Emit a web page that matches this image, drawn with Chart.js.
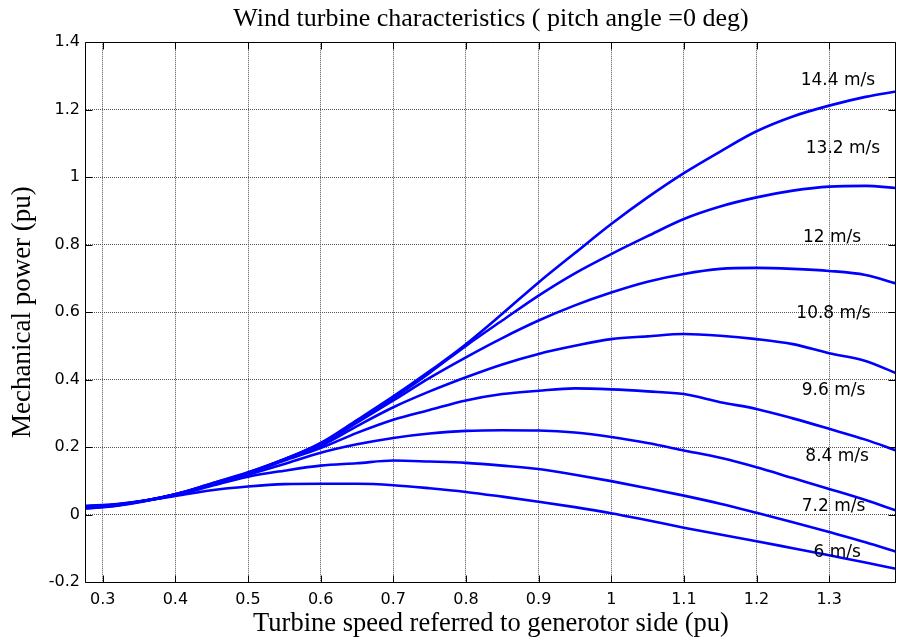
<!DOCTYPE html>
<html>
<head>
<meta charset="utf-8">
<script src="https://cdn.jsdelivr.net/npm/chart.js@4.4.1/dist/chart.umd.min.js"></script>
<style>
  html, body { margin: 0; padding: 0; background: #fff; }
  #contenedor { width: 897px; height: 641px; }
</style>
</head>
<body>
<div id="contenedor"><canvas id="graficaTurbina"></canvas></div>
<script>
// velocidad de la turbina (pu) y potencia mecanica (pu) para cada viento
const speed = [0.277, 0.32, 0.4, 0.45, 0.5, 0.55, 0.6, 0.65, 0.7, 0.75, 0.8, 0.85, 0.9, 0.95, 1.0, 1.05, 1.1, 1.15, 1.2, 1.25, 1.3, 1.35, 1.392];
const p6   = [0.026, 0.031, 0.055, 0.072, 0.083, 0.09, 0.091, 0.091, 0.087, 0.078, 0.067, 0.053, 0.038, 0.022, 0.004, -0.017, -0.039, -0.059, -0.079, -0.1, -0.121, -0.142, -0.161];
const p7_2 = [0.024, 0.03, 0.057, 0.085, 0.112, 0.13, 0.145, 0.152, 0.16, 0.157, 0.153, 0.145, 0.135, 0.118, 0.099, 0.078, 0.056, 0.032, 0.005, -0.023, -0.052, -0.082, -0.11];
const p8_4 = [0.022, 0.029, 0.058, 0.088, 0.118, 0.15, 0.183, 0.208, 0.227, 0.24, 0.248, 0.25, 0.249, 0.243, 0.23, 0.212, 0.19, 0.168, 0.14, 0.108, 0.076, 0.043, 0.012];
const p9_6 = [0.021, 0.029, 0.059, 0.09, 0.122, 0.16, 0.197, 0.242, 0.281, 0.31, 0.338, 0.357, 0.367, 0.374, 0.371, 0.365, 0.357, 0.333, 0.313, 0.285, 0.254, 0.222, 0.19];
const p10_8 = [0.02, 0.028, 0.06, 0.092, 0.124, 0.163, 0.203, 0.262, 0.318, 0.365, 0.407, 0.445, 0.476, 0.5, 0.52, 0.528, 0.535, 0.53, 0.52, 0.505, 0.478, 0.455, 0.419];
const p12  = [0.02, 0.028, 0.06, 0.092, 0.125, 0.164, 0.207, 0.272, 0.338, 0.405, 0.466, 0.523, 0.575, 0.62, 0.658, 0.69, 0.713, 0.728, 0.731, 0.728, 0.722, 0.71, 0.685];
const p13_2 = [0.019, 0.027, 0.06, 0.09, 0.123, 0.164, 0.21, 0.278, 0.345, 0.42, 0.5, 0.575, 0.649, 0.715, 0.772, 0.825, 0.876, 0.913, 0.94, 0.96, 0.972, 0.974, 0.968];
const p14_4 = [0.018, 0.026, 0.059, 0.088, 0.12, 0.163, 0.212, 0.28, 0.35, 0.425, 0.505, 0.595, 0.688, 0.775, 0.861, 0.94, 1.012, 1.076, 1.136, 1.18, 1.212, 1.238, 1.254];

const seriesNames = ['6 m/s', '7.2 m/s', '8.4 m/s', '9.6 m/s', '10.8 m/s', '12 m/s', '13.2 m/s', '14.4 m/s'];
const seriesPower = [p6, p7_2, p8_4, p9_6, p10_8, p12, p13_2, p14_4];
// donde va cada etiqueta (en unidades de los ejes)
const labelSpeed = [1.311, 1.306, 1.311, 1.306, 1.306, 1.304, 1.319, 1.312];
const labelPower = [-0.112, 0.024, 0.172, 0.367, 0.595, 0.822, 1.084, 1.286];

const xTicks = [0.3, 0.4, 0.5, 0.6, 0.7, 0.8, 0.9, 1.0, 1.1, 1.2, 1.3];
const yTicks = [-0.2, 0, 0.2, 0.4, 0.6, 0.8, 1.0, 1.2, 1.4];

const serif = 'Liberation Serif';
const sans = 'DejaVu Sans';
const fmt = v => String(Math.round(v * 10) / 10);

// marco negro, marcas hacia dentro y etiquetas de velocidad
const marco = {
  id: 'marco',
  afterDatasetsDraw(chart) {
    const { ctx, chartArea: a, scales: { x, y } } = chart;
    ctx.save();
    ctx.strokeStyle = '#000';
    ctx.lineWidth = 1;
    const l = Math.round(a.left) - 0.5, r = Math.round(a.right) - 0.5;
    const t = Math.round(a.top) + 0.5, b = Math.round(a.bottom) + 0.5;
    ctx.beginPath();
    ctx.moveTo(l, t); ctx.lineTo(r, t); ctx.lineTo(r, b); ctx.lineTo(l, b); ctx.closePath();
    xTicks.forEach(v => {
      const px = Math.round(x.getPixelForValue(v)) + 0.5;
      ctx.moveTo(px, b); ctx.lineTo(px, b - 7);
      ctx.moveTo(px, t); ctx.lineTo(px, t + 7);
    });
    yTicks.forEach(v => {
      const py = Math.round(y.getPixelForValue(v)) + 0.5;
      ctx.moveTo(l, py); ctx.lineTo(l + 7, py);
      ctx.moveTo(r, py); ctx.lineTo(r - 7, py);
    });
    ctx.stroke();

    ctx.fillStyle = '#000';
    ctx.font = '17px "' + sans + '"';
    ctx.textAlign = 'center';
    ctx.textBaseline = 'middle';
    seriesNames.forEach((txt, i) => {
      ctx.fillText(txt, x.getPixelForValue(labelSpeed[i]), y.getPixelForValue(labelPower[i]));
    });
    ctx.restore();
  }
};

const ctx = document.getElementById('graficaTurbina');
new Chart(ctx, {
  type: 'line',
  data: {
    datasets: seriesPower.map((serie, i) => ({
      label: seriesNames[i],
      data: speed.map((s, j) => ({ x: s, y: serie[j] })),
      borderColor: '#0000ff',
      borderWidth: 2.6,
      pointRadius: 0,
      fill: false,
      cubicInterpolationMode: 'monotone'
    }))
  },
  options: {
    responsive: true,
    maintainAspectRatio: false,
    animation: false,
    devicePixelRatio: 1,
    layout: { padding: { left: 0, right: 1, top: 0, bottom: 0 } },
    plugins: {
      legend: { display: false },
      tooltip: { enabled: false },
      title: {
        display: true,
        fullSize: false,
        text: 'Wind turbine characteristics ( pitch angle =0 deg)',
        color: '#000',
        font: { family: serif, size: 26, weight: 'normal' },
        padding: { top: 4, bottom: 7 }
      }
    },
    scales: {
      x: {
        type: 'linear',
        min: 0.277,
        max: 1.392,
        afterBuildTicks: s => { s.ticks = xTicks.map(v => ({ value: v })); },
        afterFit: s => { s.height = 59; },
        ticks: { color: '#000', font: { family: sans, size: 16 }, padding: 8, callback: fmt, maxRotation: 0 },
        grid: { color: '#555', drawTicks: false },
        border: { display: false, dash: [1, 1] },
        title: {
          display: true,
          text: 'Turbine speed referred to generotor side (pu)',
          color: '#000',
          font: { family: serif, size: 26.5, weight: 'normal' },
          padding: { top: 0, bottom: 1 }
        }
      },
      y: {
        min: -0.2,
        max: 1.4,
        afterBuildTicks: s => { s.ticks = yTicks.map(v => ({ value: v })); },
        afterFit: s => { s.width = 86; },
        ticks: { color: '#000', font: { family: sans, size: 16 }, padding: 6, callback: fmt },
        grid: { color: '#555', drawTicks: false },
        border: { display: false, dash: [1, 1] },
        title: {
          display: true,
          text: 'Mechanical power (pu)',
          color: '#000',
          font: { family: serif, size: 27, weight: 'normal' },
          padding: { top: 7, bottom: 0 }
        }
      }
    }
  },
  plugins: [marco]
});
</script>
</body>
</html>
